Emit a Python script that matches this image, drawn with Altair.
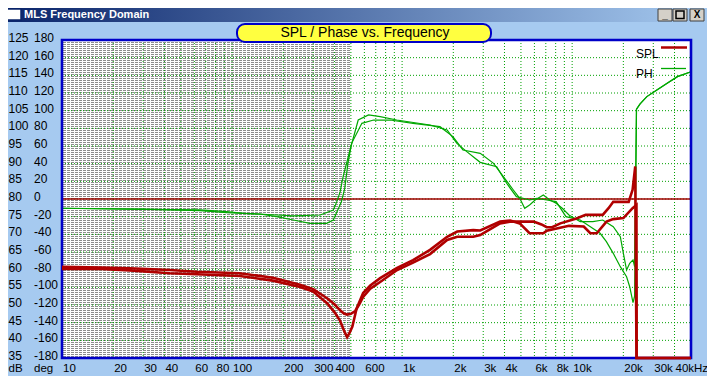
import math
import altair as alt
import pandas as pd

# ---------------- data ----------------
spl1_freq = [10, 17, 25, 43, 62, 111, 174, 251, 300, 362, 400, 432, 455, 475, 500, 530, 560, 590, 650, 743,
             935, 1160, 1460, 1840, 2110, 2620, 2880, 3300, 3770, 4320, 5200, 5930, 6600, 7090, 7620, 8530,
             10600, 12000, 15130, 16370, 17450, 21500, 22670, 23500, 23900, 50000]
spl1_db = [60.8, 60.6, 60.4, 59.9, 59.4, 59.0, 57.7, 55.7, 54.5, 51.9, 50.2, 48.5, 47.6, 47.3, 47.5, 48.3,
           50.2, 52.3, 54.6, 56.5, 59.9, 62.0, 64.4, 68.4, 69.3, 69.3, 69.8, 71.5, 73.1, 73.6, 73.6, 73.6,
           72.8, 72.0, 72.0, 73.1, 74.5, 75.5, 75.5, 77.4, 79.2, 79.2, 82.6, 89.2, 35.0, 35.0]

spl2_freq = [10, 17, 25, 43, 62, 111, 174, 251, 300, 362, 400, 432, 455, 475, 490, 510, 540, 590, 650, 743,
             935, 1160, 1460, 1840, 2110, 2620, 2880, 3770, 4320, 4920, 5620, 6770, 7090, 9580, 11700, 12790,
             13950, 15920, 17450, 20010, 22670, 23890, 23950, 50000]
spl2_db = [60.2, 60.2, 59.8, 59.0, 58.7, 58.2, 56.9, 55.1, 53.8, 50.5, 48.0, 45.5, 42.8, 40.9, 42.0, 43.9,
           49.0, 53.4, 55.5, 57.6, 60.5, 62.7, 65.6, 69.3, 70.8, 71.2, 71.1, 73.6, 73.9, 73.1, 70.3, 70.3,
           71.0, 72.4, 72.2, 70.3, 70.3, 73.6, 74.3, 74.6, 77.4, 78.3, 35.0, 35.0]

ph1_freq = [10, 30, 65, 93, 116, 183, 229, 330, 394, 413, 432, 450, 494, 552, 635, 743, 930, 1460, 1840,
            2100, 2400, 2880, 3600, 4120, 4700, 5620, 6200, 7090, 8050, 9200, 11150, 12800, 14600, 15900,
            17450, 19200, 20900, 21800, 22800, 23300, 23900, 25100, 27500, 31500, 36200, 41600, 50000]
ph1_deg = [-10.5, -11.7, -12.4, -14.3, -16.2, -18.1, -19.2, -18.1, -12.4, -3.0, 8.0, 25.3, 55.5, 89.4,
           95.1, 93.2, 89.4, 83.8, 78.1, 63.0, 53.6, 41.5, 36.6, 17.8, 2.6, -1.1, 0.8, -1.1, -3.0, -20.0,
           -23.8, -31.3, -38.8, -48.3, -61.5, -76.6, -88.0, -99.3, -117.4, -110.0, 101.6, 107.6, 115.9,
           123.4, 131.0, 138.5, 144.1]

ph2_freq = [10, 30, 65, 93, 146, 183, 229, 287, 360, 394, 413, 440, 460, 480, 505, 580, 680, 850, 1160,
            1670, 1990, 2280, 2880, 3450, 3940, 4510, 4920, 5260, 5620, 6060, 6770, 7380, 8050, 8750, 9580,
            11150, 13240, 15130, 17450, 19200, 20010, 20900, 21800, 22800, 23300, 23900, 25100, 27500,
            31500, 36200, 41600, 50000]
ph2_deg = [-10.5, -11.5, -13.2, -15.4, -17.0, -20.0, -23.8, -27.5, -27.5, -23.8, -15.0, -3.0, 12.0, 40.0,
           63.0, 85.7, 89.4, 89.4, 85.7, 81.9, 70.6, 55.5, 51.7, 40.4, 25.3, 10.2, 0.8, -10.5, -6.8, -1.1,
           4.5, -1.1, -4.9, -10.5, -18.1, -25.7, -25.7, -23.8, -31.3, -42.7, -61.5, -80.4, -72.8, -69.0,
           -76.6, 101.6, 107.6, 115.9, 123.4, 131.0, 138.5, 144.1]

db_ticks = [125, 120, 115, 110, 105, 100, 95, 90, 85, 80, 75, 70, 65, 60, 55, 50, 45, 40, 35]
deg_ticks = [180, 160, 140, 120, 100, 80, 60, 40, 20, 0, -20, -40, -60, -80, -100, -120, -140, -160, -180]
x_tick_freqs = [10, 20, 30, 40, 60, 80, 100, 200, 300, 400, 600, 1000, 2000, 3000, 4000, 6000, 8000,
                10000, 20000, 30000, 40000]
x_tick_labels = ["10", "20", "30", "40", "60", "80", "100", "200", "300", "400", "600", "1k", "2k", "3k",
                 "4k", "6k", "8k", "10k", "20k", "30k", "40kHz"]
grid_freqs = [20, 30, 40, 50, 60, 70, 80, 90, 100, 200, 300, 400, 500, 600, 700, 800, 900, 1000, 2000,
              3000, 4000, 5000, 6000, 7000, 8000, 9000, 10000, 20000, 30000, 40000]
grid_db = [40, 45, 50, 55, 60, 65, 70, 75, 80, 85, 90, 95, 100, 105, 110, 115, 120]
shade_lo, shade_hi = 10, 500
ref_db = 80
legend_names = ["SPL", "PH"]

# ---------------- layout ----------------
W, H = 629, 318
FMIN, FMAX = 10, 50000
XS = alt.Scale(type="log", domain=[FMIN, FMAX])
YS = alt.Scale(domain=[35, 125])
PS = alt.Scale(domain=[-180, 180])
FONT = "Liberation Sans"
RED = "#B00000"
GREEN = "#00A800"
GRIDG = "#00A000"
BLUE = "#0000C8"
BODY = "#A6CAF0"
LBL = 11.5

one = pd.DataFrame({"k": [0]})


def xf(field):
    return alt.X(field, type="quantitative", scale=XS, axis=None)


def yd(field):
    return alt.Y(field, type="quantitative", scale=YS, axis=None)


# shaded (hatched) low-frequency region
shade_px = W * math.log10(shade_hi / shade_lo) / math.log10(FMAX / FMIN)
shade_center = pd.DataFrame({"f": [math.sqrt(shade_lo * shade_hi)]})
shade_span = pd.DataFrame({"a": [shade_lo], "b": [shade_hi]})

hatch_rows = alt.Chart(shade_center).mark_rule(
    color="#8c8c8c", strokeWidth=shade_px, strokeDash=[1, 1]
).encode(x=xf("f"), y=alt.value(0), y2=alt.value(H))
hatch_gaps = alt.Chart(shade_span).mark_rule(
    color="white", strokeWidth=H, strokeDash=[1, 3]
).encode(x=xf("a"), x2="b:Q", y=alt.value(H / 2))

vgrid = alt.Chart(pd.DataFrame({"f": grid_freqs})).mark_rule(
    color=GRIDG, strokeWidth=1, strokeDash=[1, 2]
).encode(x=xf("f"), y=alt.value(0), y2=alt.value(H))
hgrid = alt.Chart(pd.DataFrame({"db": grid_db})).mark_rule(
    color=GRIDG, strokeWidth=1, strokeDash=[1, 2]
).encode(y=yd("db"), x=alt.value(0), x2=alt.value(W))

ref_line = alt.Chart(pd.DataFrame({"db": [ref_db]})).mark_rule(
    color="#A00000", strokeWidth=1.3
).encode(y=yd("db"), x=alt.value(0), x2=alt.value(W))

ph_df = pd.concat([
    pd.DataFrame({"f": ph1_freq, "deg": ph1_deg, "s": "a"}),
    pd.DataFrame({"f": ph2_freq, "deg": ph2_deg, "s": "b"}),
])
phase = alt.Chart(ph_df).mark_line(color=GREEN, strokeWidth=1.2).encode(
    x=xf("f"), y=alt.Y("deg:Q", scale=PS, axis=None), detail="s:N"
)

border = alt.Chart(one).mark_rect(fill="transparent", stroke=BLUE, strokeWidth=2.6).encode(
    x=alt.value(0), x2=alt.value(W), y=alt.value(0), y2=alt.value(H)
)

spl_df = pd.concat([
    pd.DataFrame({"f": spl1_freq, "db": spl1_db, "s": "a"}),
    pd.DataFrame({"f": spl2_freq, "db": spl2_db, "s": "b"}),
])
spl = alt.Chart(spl_df).mark_line(color=RED, strokeWidth=2.6).encode(
    x=xf("f"), y=yd("db"), detail="s:N"
)

# legend
leg_txt = alt.Chart(pd.DataFrame({"t": legend_names, "y": [14, 34]})).mark_text(
    font=FONT, fontSize=12, align="left", baseline="middle", color="black"
).encode(x=alt.value(574), y=alt.Y("y:Q", scale=None), text="t:N")
leg_spl = alt.Chart(one).mark_rule(color=RED, strokeWidth=2.5).encode(
    x=alt.value(599), x2=alt.value(625), y=alt.value(7.5))
leg_ph = alt.Chart(one).mark_rule(color=GREEN, strokeWidth=1.3).encode(
    x=alt.value(599), x2=alt.value(624), y=alt.value(28.5))

# axis labels
ylab_df = pd.DataFrame({"db": db_ticks, "deg": [str(d) for d in deg_ticks]})
ylab_db = alt.Chart(ylab_df).mark_text(
    font=FONT, fontSize=12, align="left", baseline="middle", color="black", dy=-2
).encode(x=alt.value(-53.5), y=yd("db"), text="db:Q")
ylab_deg = alt.Chart(ylab_df).mark_text(
    font=FONT, fontSize=12, align="left", baseline="middle", color="black", dy=-2
).encode(x=alt.value(-28), y=yd("db"), text="deg:N")
xlab = alt.Chart(pd.DataFrame({"f": x_tick_freqs, "t": x_tick_labels})).mark_text(
    font=FONT, fontSize=LBL, align="left", baseline="middle", color="black", dx=1
).encode(x=xf("f"), y=alt.value(328.5), text="t:N")
unit_lab = alt.Chart(pd.DataFrame({"t": ["dB", "deg"], "x": [-53.5, -28]})).mark_text(
    font=FONT, fontSize=LBL, align="left", baseline="middle", color="black"
).encode(x=alt.X("x:Q", scale=None), y=alt.value(328.5), text="t:N")

# chart title box
title_box = alt.Chart(one).mark_rect(
    fill="#FFFF40", stroke=BLUE, strokeWidth=2, cornerRadius=8
).encode(x=alt.value(175), x2=alt.value(429), y=alt.value(-16), y2=alt.value(2))
title_txt = alt.Chart(one).mark_text(
    text="SPL / Phase vs. Frequency", font=FONT, fontSize=14, color="black",
    align="center", baseline="middle"
).encode(x=alt.value(303), y=alt.value(-7))

# window chrome
grad = alt.LinearGradient(
    gradient="linear",
    stops=[alt.GradientStop(color="#0A246A", offset=0), alt.GradientStop(color="#A6CAF0", offset=1)],
    x1=0, x2=1, y1=0, y2=0,
)
title_bar = alt.Chart(one).mark_rect(color=grad).encode(
    x=alt.value(-58), x2=alt.value(649), y=alt.value(-37), y2=alt.value(-18))
win_title = alt.Chart(one).mark_text(
    text="MLS Frequency Domain", font=FONT, fontSize=11, fontWeight="bold", color="white",
    align="left", baseline="middle"
).encode(x=alt.value(-38), y=alt.value(-25.5))
icon = alt.Chart(one).mark_rect(fill="white", stroke="#0A246A", strokeWidth=1.5).encode(
    x=alt.value(-57), x2=alt.value(-41), y=alt.value(-31), y2=alt.value(-20))
btn_df = pd.DataFrame({"x0": [596, 611, 628], "x1": [610, 625, 642], "g": ["_", "", "X"]})
buttons = alt.Chart(btn_df).mark_rect(fill="#D4D0C8", stroke="#404040", strokeWidth=1).encode(
    x=alt.X("x0:Q", scale=None), x2="x1:Q", y=alt.value(-31), y2=alt.value(-19))
btn_glyph = alt.Chart(btn_df).mark_text(
    font=FONT, fontSize=10, fontWeight="bold", color="black", align="center", baseline="middle", dx=7
).encode(x=alt.X("x0:Q", scale=None), y=alt.value(-25), text="g:N")
max_box = alt.Chart(one).mark_rect(fill="transparent", stroke="black", strokeWidth=1.5).encode(
    x=alt.value(614), x2=alt.value(622), y=alt.value(-29), y2=alt.value(-21.5))

chart = alt.layer(
    hatch_rows, hatch_gaps, vgrid, hgrid, ref_line, phase, border, spl,
    leg_spl, leg_ph, leg_txt, ylab_db, ylab_deg, xlab, unit_lab, title_box, title_txt,
    title_bar, win_title, icon, buttons, btn_glyph, max_box,
).resolve_scale(y="independent").properties(
    width=W, height=H, autosize="none",
    padding={"left": 54, "top": 32, "right": 16, "bottom": 18},
    background=BODY,
).configure_view(stroke=None, fill="white")

chart.save("out.html", embed_options={"renderer": "svg", "actions": False})
